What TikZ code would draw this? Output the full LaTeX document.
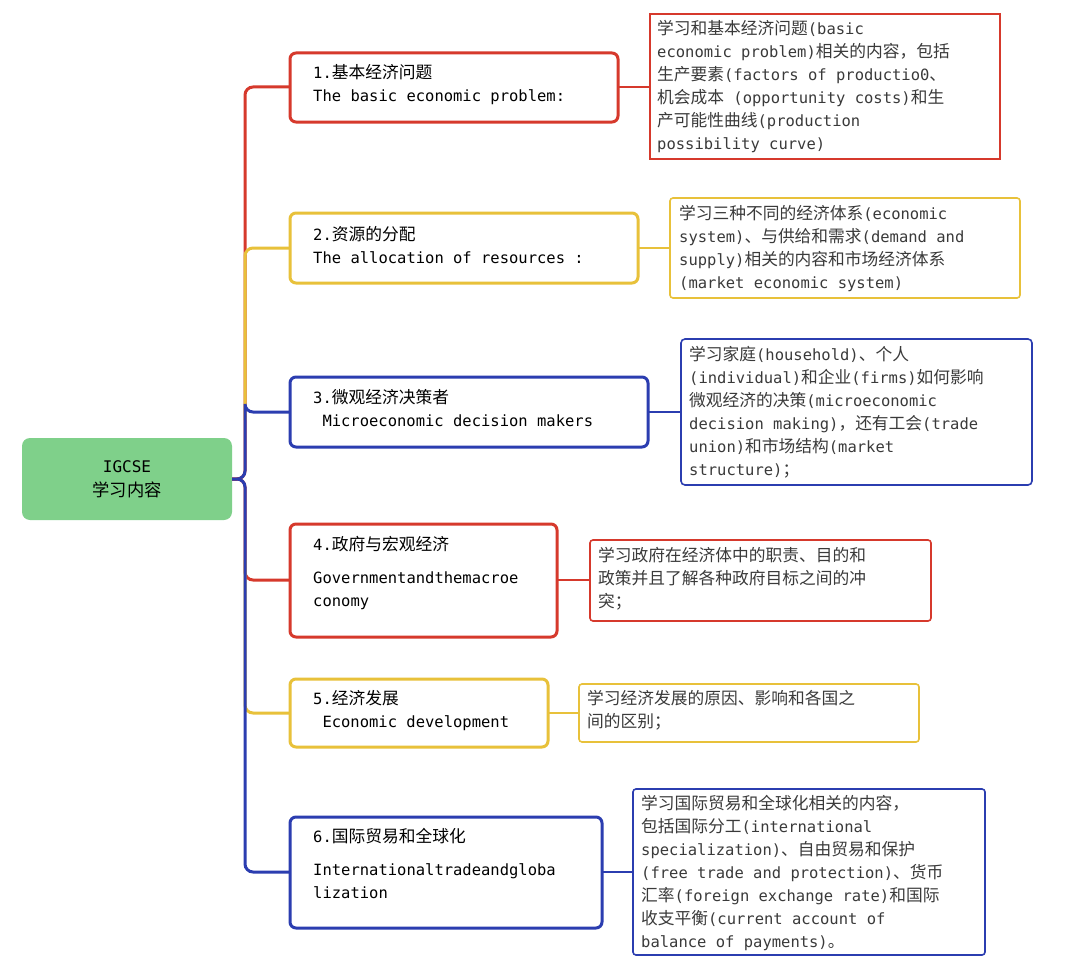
\documentclass[tikz,border=0pt]{standalone}
\usepackage{fontspec}
\setmainfont{DejaVu Sans Mono}
\newfontfamily\cjkf[Scale=1.08]{Noto Sans CJK SC}
\newcommand{\cj}[1]{{\cjkf #1}}
\definecolor{cred}{HTML}{D6392C}
\definecolor{cyel}{HTML}{E8C13A}
\definecolor{cblu}{HTML}{2B3DB0}
\definecolor{cgrn}{HTML}{7FD08A}
\definecolor{ctxt}{HTML}{3A3A3A}
\begin{document}
\begin{tikzpicture}[x=1pt,y=-1pt,
  lone/.style={draw=#1,line width=3pt,rounded corners=6pt,fill=white,inner sep=0pt},
  ltwo/.style={draw=#1,line width=1.6pt,fill=white,inner sep=0pt},
  txt/.style={anchor=north west,align=left,font=\fontsize{15.5}{23}\selectfont,inner sep=0pt,text=ctxt},
  txo/.style={anchor=north west,align=left,font=\fontsize{15.5}{23}\selectfont,inner sep=0pt,text=black},
  br/.style={line width=3pt,rounded corners=8pt,draw=#1},
  lk/.style={line width=1.6pt,draw=#1}]
\useasboundingbox (0,0) rectangle (1080,974);
\fill[white] (0,0) rectangle (1080,974);
% root
\node[draw=none,fill=cgrn,rounded corners=8pt,minimum width=210pt,minimum height=82pt,align=center,font=\fontsize{16}{24}\selectfont] (root) at (127,479) {IGCSE\\\cj{学习内容}};
\coordinate (a1) at (290,87); \coordinate (c1) at (618,87);
\coordinate (a2) at (290,248); \coordinate (c2) at (638,248);
\coordinate (a3) at (290,412); \coordinate (c3) at (648,412);
\coordinate (a4) at (290,580); \coordinate (c4) at (557,580);
\coordinate (a5) at (290,713); \coordinate (c5) at (548,713);
\coordinate (a6) at (290,872); \coordinate (c6) at (602,872);
\coordinate (rt) at (232,479);
% branches
\draw[br=cred] (rt) -| (245,350) |- (a1);
\draw[br=cyel] (245,420) |- (a2);
\draw[br=cblu] (rt) -| (245,410) |- (a3);
\draw[br=cred] (rt) -| (245,580) -- (a4);
\draw[br=cyel] (245,560) |- (a5);
\draw[br=cblu] (rt) -| (245,700) |- (a6);
% level1 boxes
\draw[lone=cred] (290,53) rectangle (618,122);
\draw[lone=cyel] (290,213) rectangle (638,283);
\draw[lone=cblu] (290,377) rectangle (648,447);
\draw[lone=cred] (290,524) rectangle (557,637);
\draw[lone=cyel] (290,679) rectangle (548,747);
\draw[lone=cblu] (290,817) rectangle (602,928);
\node[txo] (t1) at (313,64) {1.\cj{基本经济问题}\\The basic economic problem:};
\node[txo] (t2) at (313,226) {2.\cj{资源的分配}\\The allocation of resources :};
\node[txo] (t3) at (313,389) {3.\cj{微观经济决策者}\\\hspace*{0.6em}Microeconomic decision makers};
\node[txo] (t4) at (313,536) {4.\cj{政府与宏观经济}\\[10pt]Governmentandthemacroe\\conomy};
\node[txo] (t5) at (313,690) {5.\cj{经济发展}\\\hspace*{0.6em}Economic development};
\node[txo] (t6) at (313,828) {6.\cj{国际贸易和全球化}\\[10pt]Internationaltradeandgloba\\lization};
% level2 boxes
\coordinate (d1) at (650,87); \coordinate (d2) at (670,248); \coordinate (d3) at (681,412);
\coordinate (d4) at (590,580); \coordinate (d5) at (579,713); \coordinate (d6) at (633,872);
\draw[lk=cred] (c1)--(d1); \draw[lk=cyel] (c2)--(d2); \draw[lk=cblu] (c3)--(d3);
\draw[lk=cred] (c4)--(d4); \draw[lk=cyel] (c5)--(d5); \draw[lk=cblu] (c6)--(d6);
\draw[ltwo=cred] (650,14) rectangle (1000,159);
\draw[ltwo=cyel,rounded corners=3pt] (670,198) rectangle (1020,298);
\draw[ltwo=cblu,rounded corners=4pt] (681,339) rectangle (1032,485);
\draw[ltwo=cred,rounded corners=3pt] (590,540) rectangle (931,621);
\draw[ltwo=cyel,rounded corners=3pt] (579,684) rectangle (919,742);
\draw[ltwo=cblu,rounded corners=3pt] (633,789) rectangle (985,955);
\node[txt] (s1) at (657,20) {\cj{学习和基本经济问题}(basic\\economic problem)\cj{相关的内容，包括}\\\cj{生产要素}(factors of productio0\cj{、}\\\cj{机会成本} (opportunity costs)\cj{和生}\\\cj{产可能性曲线}(production\\possibility curve)};
\node[txt] (s2) at (679,205) {\cj{学习三种不同的经济体系}(economic\\system)\cj{、与供给和需求}(demand and\\supply)\cj{相关的内容和市场经济体系}\\(market economic system)};
\node[txt] (s3) at (689,346) {\cj{学习家庭}(household)\cj{、个人}\\(individual)\cj{和企业}(firms)\cj{如何影响}\\\cj{微观经济的决策}(microeconomic\\decision making)\cj{，还有工会}(trade\\union)\cj{和市场结构}(market\\structure)\cj{；}};
\node[txt] (s4) at (598,547) {\cj{学习政府在经济体中的职责、目的和}\\\cj{政策并且了解各种政府目标之间的冲}\\\cj{突；}};
\node[txt] (s5) at (587,690) {\cj{学习经济发展的原因、影响和各国之}\\\cj{间的区别；}};
\node[txt] (s6) at (641,795) {\cj{学习国际贸易和全球化相关的内容，}\\\cj{包括国际分工}(international\\specialization)\cj{、自由贸易和保护}\\(free trade and protection)\cj{、货币}\\\cj{汇率}(foreign exchange rate)\cj{和国际}\\\cj{收支平衡}(current account of\\balance of payments)\cj{。}};
\end{tikzpicture}
\end{document}
